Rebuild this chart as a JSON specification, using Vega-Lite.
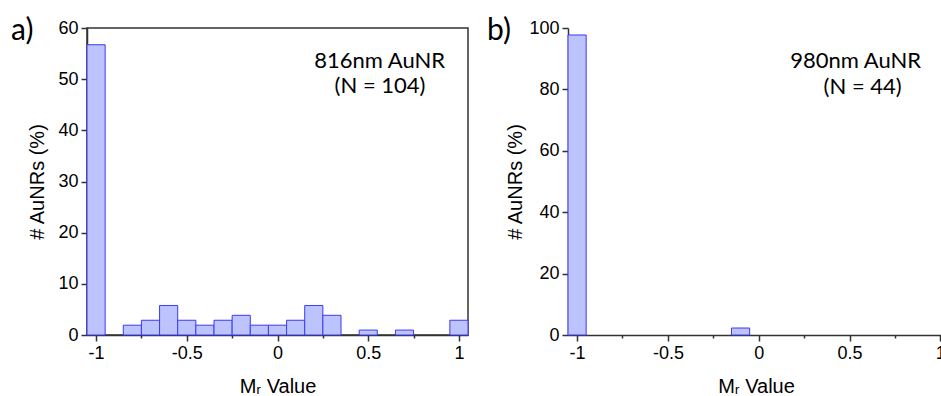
{
  "$schema": "https://vega.github.io/schema/vega-lite/v6.json",
  "background": "white",
  "padding": {"left": 10, "top": 14, "right": 0, "bottom": 0},
  "datasets": {
    "a": [
      {"bin_start": -1.05, "bin_end": -0.95, "pct": 56.73},
      {"bin_start": -0.85, "bin_end": -0.75, "pct": 1.92},
      {"bin_start": -0.75, "bin_end": -0.65, "pct": 2.88},
      {"bin_start": -0.65, "bin_end": -0.55, "pct": 5.77},
      {"bin_start": -0.55, "bin_end": -0.45, "pct": 2.88},
      {"bin_start": -0.45, "bin_end": -0.35, "pct": 1.92},
      {"bin_start": -0.35, "bin_end": -0.25, "pct": 2.88},
      {"bin_start": -0.25, "bin_end": -0.15, "pct": 3.85},
      {"bin_start": -0.15, "bin_end": -0.05, "pct": 1.92},
      {"bin_start": -0.05, "bin_end": 0.05, "pct": 1.92},
      {"bin_start": 0.05, "bin_end": 0.15, "pct": 2.88},
      {"bin_start": 0.15, "bin_end": 0.25, "pct": 5.77},
      {"bin_start": 0.25, "bin_end": 0.35, "pct": 3.85},
      {"bin_start": 0.45, "bin_end": 0.55, "pct": 0.96},
      {"bin_start": 0.65, "bin_end": 0.75, "pct": 0.96},
      {"bin_start": 0.95, "bin_end": 1.05, "pct": 2.88}
    ],
    "b": [
      {"bin_start": -1.05, "bin_end": -0.95, "pct": 97.73},
      {"bin_start": -0.15, "bin_end": -0.05, "pct": 2.27}
    ],
    "one": [{}]
  },
  "spacing": 17,
  "hconcat": [
    {
      "width": 381,
      "height": 307,
      "layer": [
        {
          "data": {"name": "a"},
          "mark": {"type": "bar", "fill": "#BCC3FD", "stroke": "#3B3BF2", "strokeWidth": 1},
          "encoding": {
            "x": {"field": "bin_start", "type": "quantitative", "scale": {"domain": [-1.05, 1.05], "nice": false, "zero": false},
              "axis": {"title": "Mᵣ Value", "values": [-1, -0.75, -0.5, -0.25, 0, 0.25, 0.5, 0.75, 1],
                "labelExpr": "abs(datum.value*2 - round(datum.value*2)) < 0.001 ? '' + datum.value : ''",
                "tickSize": {"condition": {"test": "abs(datum.value*2 - round(datum.value*2)) < 0.001", "value": 6}, "value": 3},
                "titlePadding": 14}},
            "x2": {"field": "bin_end"},
            "y": {"field": "pct", "type": "quantitative", "scale": {"domain": [0, 60], "nice": false},
              "axis": {"title": "# AuNRs (%)", "values": [0, 5, 10, 15, 20, 25, 30, 35, 40, 45, 50, 55, 60],
                "labelExpr": "datum.value % 10 === 0 ? datum.label : ''",
                "tickSize": {"condition": {"test": "datum.value % 10 === 0", "value": 6}, "value": 3},
                "titlePadding": 10}},
            "y2": {"datum": 0}
          }
        },
        {
          "data": {"name": "one"},
          "mark": {"type": "text", "text": "816nm AuNR", "font": "Lato", "fontSize": 22, "align": "center", "baseline": "alphabetic", "color": "#000"},
          "encoding": {"x": {"datum": 0.563}, "y": {"datum": 52.2}}
        },
        {
          "data": {"name": "one"},
          "mark": {"type": "text", "text": "(N = 104)", "font": "Lato", "fontSize": 22, "align": "center", "baseline": "alphabetic", "color": "#000"},
          "encoding": {"x": {"datum": 0.565}, "y": {"datum": 47.2}}
        },
        {
          "data": {"name": "one"},
          "mark": {"type": "text", "text": "a)", "font": "Lato", "fontSize": 30, "align": "left", "baseline": "alphabetic", "color": "#000", "dx": -76, "dy": 11.5},
          "encoding": {"x": {"datum": -1.05}, "y": {"datum": 60}}
        }
      ]
    },
    {
      "width": 376,
      "height": 307,
      "view": {"stroke": null},
      "layer": [
        {
          "data": {"name": "b"},
          "mark": {"type": "bar", "fill": "#BCC3FD", "stroke": "#3B3BF2", "strokeWidth": 1},
          "encoding": {
            "x": {"field": "bin_start", "type": "quantitative", "scale": {"domain": [-1.05, 1.02], "nice": false, "zero": false},
              "axis": {"title": "Mᵣ Value", "values": [-1, -0.75, -0.5, -0.25, 0, 0.25, 0.5, 0.75, 1],
                "labelExpr": "abs(datum.value*2 - round(datum.value*2)) < 0.001 ? '' + datum.value : ''",
                "tickSize": {"condition": {"test": "abs(datum.value*2 - round(datum.value*2)) < 0.001", "value": 6}, "value": 3},
                "titlePadding": 14}},
            "x2": {"field": "bin_end"},
            "y": {"field": "pct", "type": "quantitative", "scale": {"domain": [0, 100], "nice": false},
              "axis": {"title": "# AuNRs (%)", "values": [0, 10, 20, 30, 40, 50, 60, 70, 80, 90, 100],
                "labelExpr": "datum.value % 20 === 0 ? datum.label : ''",
                "tickSize": {"condition": {"test": "datum.value % 20 === 0", "value": 6}, "value": 3},
                "titlePadding": 3}},
            "y2": {"datum": 0}
          }
        },
        {
          "mark": {"type": "rule", "color": "#333", "strokeWidth": 1.5},
          "encoding": {"y": {"datum": 100}}
        },
        {
          "data": {"name": "one"},
          "mark": {"type": "text", "text": "980nm AuNR", "font": "Lato", "fontSize": 22, "align": "center", "baseline": "alphabetic", "color": "#000"},
          "encoding": {"x": {"datum": 0.534}, "y": {"datum": 87}}
        },
        {
          "data": {"name": "one"},
          "mark": {"type": "text", "text": "(N = 44)", "font": "Lato", "fontSize": 22, "align": "center", "baseline": "alphabetic", "color": "#000"},
          "encoding": {"x": {"datum": 0.572}, "y": {"datum": 78.6}}
        },
        {
          "data": {"name": "one"},
          "mark": {"type": "text", "text": "b)", "font": "Lato", "fontSize": 30, "align": "left", "baseline": "alphabetic", "color": "#000", "dx": -81, "dy": 11.5},
          "encoding": {"x": {"datum": -1.05}, "y": {"datum": 100}}
        }
      ]
    }
  ],
  "config": {
    "view": {"stroke": "#333", "strokeWidth": 1.5},
    "axis": {
      "grid": false,
      "labelFont": "Liberation Sans", "labelFontSize": 18, "labelColor": "#000", "labelPadding": 3,
      "titleFont": "Liberation Sans", "titleFontSize": 20, "titleFontWeight": "normal", "titleColor": "#000",
      "domainColor": "#333", "domainWidth": 1.5, "tickColor": "#333", "tickWidth": 1.5
    }
  }
}
